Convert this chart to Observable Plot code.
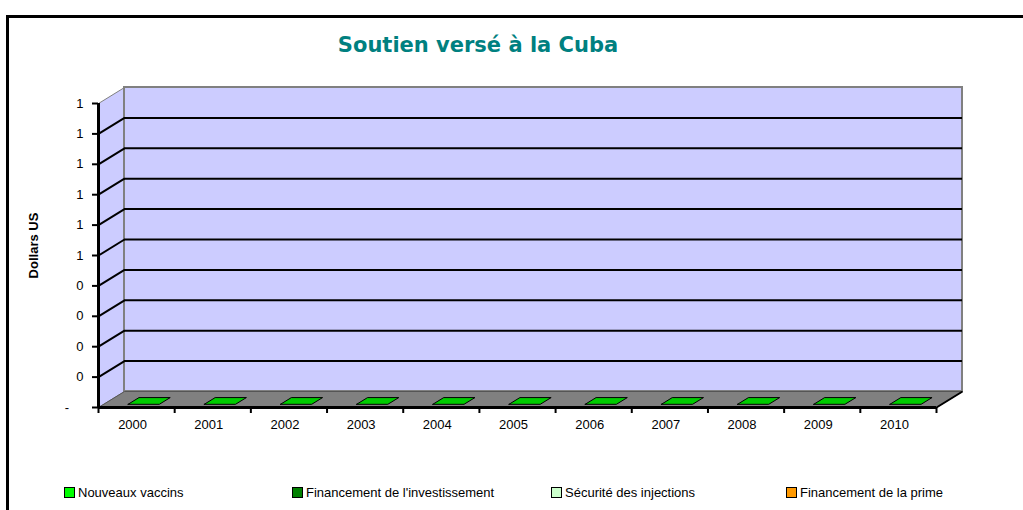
<!DOCTYPE html>
<html>
<head>
<meta charset="utf-8">
<script src="https://cdn.jsdelivr.net/npm/d3@7"></script>
<script src="https://cdn.jsdelivr.net/npm/@observablehq/plot@0.6"></script>
<style>
  html, body { margin: 0; padding: 0; background: #fff; }
  #wrap { position: relative; width: 1023px; height: 510px; overflow: hidden; background: #fff; }
  #frame { position: absolute; left: 6px; top: 15px; width: 2000px; height: 2000px;
           border-left: 3px solid #000; border-top: 3px solid #000; }
  #title { position: absolute; left: 0; top: 35px; width: 956px; text-align: center;
           font: bold 21px "DejaVu Sans", Verdana, sans-serif; line-height: 21px; color: #008080; }
  #chart { position: absolute; left: 0; top: 0; }
  .leg { position: absolute; top: 485px; font: 13px "Liberation Sans", Arial, sans-serif; color: #000;
         white-space: nowrap; line-height: 16px; }
  .sw { display: inline-block; width: 9px; height: 9px; border: 1px solid #000; margin-right: 3px;
        vertical-align: -1px; }
</style>
</head>
<body>
<div id="wrap">
  <div id="frame"></div>
  <div id="chart"></div>
  <div id="title"></div>
  <div id="legend"></div>
</div>
<script>
// ---- data ----
const chartTitle = "Soutien versé à la Cuba";
const yAxisTitle = "Dollars US";
const years = ["2000", "2001", "2002", "2003", "2004", "2005", "2006", "2007", "2008", "2009", "2010"];
const nouveauxVaccins = [0, 0, 0, 0, 0, 0, 0, 0, 0, 0, 0];
const financementInvestissement = [0, 0, 0, 0, 0, 0, 0, 0, 0, 0, 0];
const securiteInjections = [0, 0, 0, 0, 0, 0, 0, 0, 0, 0, 0];
const financementPrime = [0, 0, 0, 0, 0, 0, 0, 0, 0, 0, 0];
const seriesNames = ["Nouveaux vaccins", "Financement de l'investissement", "Sécurité des injections", "Financement de la prime"];
const seriesColors = ["#00ff00", "#008000", "#ccffcc", "#ff9900"];
const yTicks = [0, 0.1, 0.2, 0.3, 0.4, 0.5, 0.6, 0.7, 0.8, 0.9, 1];
const yTickLabels = ["-", "0", "0", "0", "0", "1", "1", "1", "1", "1", "1"];

// ---- layout ----
const W = 1023, H = 470;
const mL = 98, mR = 87, mT = 103, mB = 63;
const n = years.length;
const yMax = yTicks[yTicks.length - 1];
const DX = 26, DY = 16;                      // 3D depth in pixels
const d = DX * n / (W - mL - mR);            // depth in x units
const e = DY * yMax / (H - mT - mB);         // depth in y units
const bx0 = 0.32, bx1 = 0.73, f0 = 0.2, f1 = 0.62;

const seriesAll = [nouveauxVaccins, financementInvestissement, securiteInjections, financementPrime];
const totals = years.map((_, i) => d3.sum(seriesAll, s => s[i]));

const sideWall = [[0, 0], [0, yMax], [d, yMax + e], [d, e], [0, 0]].map(([x, y]) => ({x, y}));
const floor = [[0, 0], [n, 0], [n + d, e], [d, e], [0, 0]].map(([x, y]) => ({x, y}));
const barTops = years.flatMap((yr, i) => {
  const v = totals[i];
  return [[bx0, f0], [bx1, f0], [bx1, f1], [bx0, f1], [bx0, f0]]
    .map(([bx, f]) => ({i, x: i + bx + f * d, y: v + f * e}));
});
const inner = yTicks.slice(1, -1);

const plot = Plot.plot({
  width: W, height: H,
  marginLeft: mL, marginRight: mR, marginTop: mT, marginBottom: mB,
  x: {domain: [0, n]},
  y: {domain: [0, yMax]},
  style: {fontFamily: "'Liberation Sans', Arial, sans-serif", fontSize: "13px", color: "#000", background: "transparent", overflow: "visible"},
  marks: [
    // side wall
    Plot.line(sideWall, {x: "x", y: "y", fill: "#ccccff", stroke: "#808080", strokeWidth: 1}),
    // back wall
    Plot.rect([0], {x1: () => 0, x2: () => n, y1: () => 0, y2: () => yMax, dx: DX, dy: -DY,
      fill: "#ccccff", stroke: "#808080", strokeWidth: 2}),
    // back wall gridlines
    Plot.ruleY(inner, {x1: () => 0, x2: () => n, dx: DX, dy: -DY, stroke: "#000", strokeWidth: 2}),
    // side wall gridlines
    Plot.link(inner, {x1: () => 0, y1: t => t, x2: () => d, y2: t => t + e, stroke: "#000", strokeWidth: 2}),
    // floor
    Plot.line(floor, {x: "x", y: "y", fill: "#808080", stroke: "#555", strokeWidth: 1}),
    Plot.link([0], {x1: () => n, y1: () => 0, x2: () => n + d, y2: () => e, stroke: "#000", strokeWidth: 2}),
    // bars (flat, values are zero)
    Plot.rect(years, {x1: (yr, i) => i + bx0, x2: (yr, i) => i + bx1, y1: () => 0, y2: (yr, i) => totals[i],
      dx: f0 * DX, dy: -f0 * DY, fill: seriesColors[0]}),
    Plot.line(barTops, {x: "x", y: "y", z: "i", fill: "#00cc00", stroke: "#000", strokeWidth: 1}),
    // axes
    Plot.ruleX([0], {y1: () => 0, y2: () => yMax, stroke: "#000", strokeWidth: 3}),
    Plot.ruleY([0], {x1: () => 0, x2: () => n, stroke: "#000", strokeWidth: 3}),
    Plot.axisY({ticks: yTicks, tickSize: 6, tickPadding: 9, strokeWidth: 2, label: null, fontSize: 13,
      tickFormat: v => {
        const lab = yTickLabels[yTicks.indexOf(v)];
        return lab === "-" ? "-\u00a0\u00a0\u00a0\u00a0" : lab;
      }}),
    Plot.axisX({ticks: d3.range(n + 1), tickSize: 6, strokeWidth: 2, tickFormat: () => "", label: null}),
    Plot.text(years, {x: (yr, i) => i + 0.5, y: () => 0, dy: 17, dx: -4, text: yr => yr, fontSize: 13, fill: "#000"}),
    Plot.text([yAxisTitle], {frameAnchor: "left", textAnchor: "middle", dx: -65, dy: -10, rotate: -90, text: t => t,
      fontWeight: "bold", fontSize: 13, fill: "#000"})
  ]
});
document.getElementById("chart").appendChild(plot);
document.getElementById("title").textContent = chartTitle;

const legX = [64, 292, 551, 786];
const legend = document.getElementById("legend");
seriesNames.forEach((name, k) => {
  const item = document.createElement("div");
  item.className = "leg";
  item.style.left = legX[k] + "px";
  const sw = document.createElement("span");
  sw.className = "sw";
  sw.style.background = seriesColors[k];
  item.appendChild(sw);
  item.appendChild(document.createTextNode(name));
  legend.appendChild(item);
});
</script>
</body>
</html>
